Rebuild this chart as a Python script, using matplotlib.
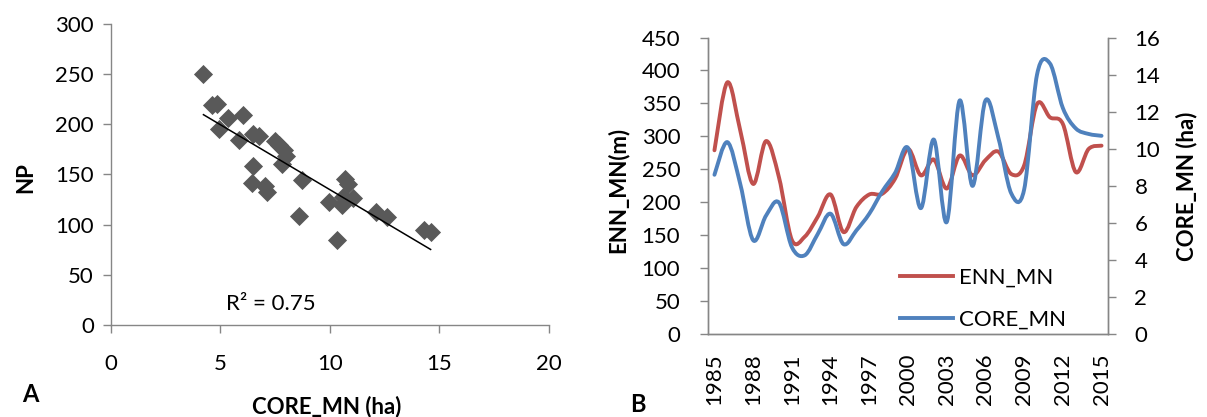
import numpy as np
import matplotlib
matplotlib.use("Agg")
import matplotlib.pyplot as plt
from matplotlib.path import Path
from matplotlib.patches import PathPatch
from matplotlib.lines import Line2D

plt.rcParams['font.family'] = ['Lato', 'DejaVu Sans']

# panel A: scatter of CORE_MN vs NP
core_mn_x = [4.24, 4.65, 4.88, 5.38, 6.05, 4.95, 5.84, 6.48, 6.78, 6.48, 6.45,
             7.04, 7.16, 7.52, 7.70, 7.90, 8.00, 7.80, 8.72, 8.61, 9.98, 10.32,
             10.70, 10.82, 10.60, 10.56, 11.05, 12.12, 12.60, 14.28, 14.60]
np_y = [250, 219, 220, 206, 209, 195, 184, 190, 188, 158, 141,
        138, 132, 183, 179, 174.5, 168, 160.6, 144, 108, 122.5, 84.4,
        145.7, 140.7, 127.5, 119, 126.5, 112, 107.6, 94.4, 92.7]
r2_label = "R² = 0.75"

# panel B: time series
years = list(range(1985, 2016))
enn_mn = [279, 382, 309, 228, 293, 238, 143, 148, 178, 212, 155, 193, 212,
          213, 236, 281, 241, 265, 221, 271, 241, 264, 277, 243, 256, 349,
          329, 319, 246, 281, 286]
core_mn = [8.6, 10.36, 8.1, 5.07, 6.4, 7.1, 4.7, 4.26, 5.4, 6.5, 4.86, 5.6,
           6.5, 7.7, 8.7, 10.05, 6.8, 10.5, 6.05, 12.6, 8.0, 12.6, 10.6, 7.6,
           7.8, 14.0, 14.6, 12.2, 11.1, 10.8, 10.7]

W, H = 1207, 417
fig = plt.figure(figsize=(W / 100, H / 100), dpi=100)

gray = '#868686'
fs = 16


def fx(px):
    return px / W


def fy(py):
    return 1 - py / H


def style_axes(ax):
    for s in ax.spines.values():
        s.set_color(gray)
        s.set_linewidth(1.0)
    ax.tick_params(colors=gray, labelcolor='black', labelsize=fs, width=1.0)


def smooth_path(x, y):
    # excel-like smoothed line: catmull-rom converted to cubic bezier
    x = np.asarray(x, float)
    y = np.asarray(y, float)
    n = len(x)
    verts = [(x[0], y[0])]
    codes = [Path.MOVETO]
    for i in range(n - 1):
        i0 = max(i - 1, 0)
        i3 = min(i + 2, n - 1)
        c1 = (x[i] + (x[i + 1] - x[i0]) / 6, y[i] + (y[i + 1] - y[i0]) / 6)
        c2 = (x[i + 1] - (x[i3] - x[i]) / 6, y[i + 1] - (y[i3] - y[i]) / 6)
        verts += [c1, c2, (x[i + 1], y[i + 1])]
        codes += [Path.CURVE4] * 3
    return Path(verts, codes)


# ---- panel A ----
axA = fig.add_axes([fx(110.5), fy(325), fx(549 - 110.5), (325 - 23.5) / H])
style_axes(axA)
axA.scatter(core_mn_x, np_y, marker='D', s=95, color='#595959', zorder=3,
            linewidths=0)
k, b = np.polyfit(core_mn_x, np_y, 1)
xl = np.array([min(core_mn_x), max(core_mn_x)])
axA.plot(xl, k * xl + b, color='black', lw=1.1, zorder=4)
axA.set_xlim(0, 20)
axA.set_ylim(0, 300)
axA.set_xticks([0, 5, 10, 15, 20])
axA.set_yticks(range(0, 301, 50))
axA.spines['top'].set_visible(False)
axA.spines['right'].set_visible(False)
axA.tick_params(axis='x', length=6, pad=15)
axA.tick_params(axis='y', length=6, pad=6)
axA.text(7.3, 21, r2_label, fontsize=fs, ha='center', va='center')
axA.set_xlabel('CORE_MN (ha)', fontsize=fs, fontweight='bold')
axA.xaxis.set_label_coords(0.494, -0.235)
axA.set_ylabel('NP', fontsize=fs, fontweight='bold')
axA.yaxis.set_label_coords(-0.17, 0.49)

# ---- panel B ----
axB = fig.add_axes([fx(708), fy(334.3), fx(400), (334.3 - 37.5) / H])
style_axes(axB)
xs = np.arange(len(years))
red = '#C0504D'
blue = '#4F81BD'
axB.add_patch(PathPatch(smooth_path(xs, enn_mn), fill=False, edgecolor=red,
                        lw=2.8, capstyle='round', joinstyle='round'))
axB.set_xlim(-0.5, len(years) - 0.5)
axB.set_ylim(0, 450)
axB.set_yticks(range(0, 451, 50))
axB.set_xticks(xs[::3])
axB.set_xticklabels([str(y) for y in years[::3]], rotation=90)
axB.tick_params(axis='x', length=0, pad=13.5)
axB.tick_params(axis='y', length=6, pad=14)
axB.spines['top'].set_visible(False)
axB.set_ylabel('ENN_MN(m)', fontsize=fs, fontweight='bold')
axB.yaxis.set_label_coords(-0.1975, 0.485)

axB2 = axB.twinx()
style_axes(axB2)
axB2.add_patch(PathPatch(smooth_path(xs, core_mn), fill=False, edgecolor=blue,
                         lw=2.8, capstyle='round', joinstyle='round'))
axB2.set_ylim(0, 16)
axB2.set_yticks(range(0, 17, 2))
axB2.tick_params(axis='y', length=6, pad=13)
axB2.spines['top'].set_visible(False)
axB2.set_ylabel('CORE_MN (ha)', fontsize=fs, fontweight='bold', rotation=90)
axB2.yaxis.set_label_coords(1.17, 0.5)

handles = [Line2D([], [], color=red, lw=2.8), Line2D([], [], color=blue, lw=2.8)]
axB2.legend(handles, ['ENN_MN', 'CORE_MN'], loc='center left',
            bbox_to_anchor=(fx(900), fy(298.5)), bbox_transform=fig.transFigure,
            frameon=False, fontsize=fs, borderpad=0, borderaxespad=0,
            handlelength=2.4, handletextpad=0.25, labelspacing=1.0)

fig.text(fx(30), fy(395), 'A', fontsize=fs + 1, fontweight='bold',
         ha='center', va='center')
fig.text(fx(638), fy(405), 'B', fontsize=fs + 1, fontweight='bold',
         ha='center', va='center')

fig.savefig('out.png', dpi=100)
